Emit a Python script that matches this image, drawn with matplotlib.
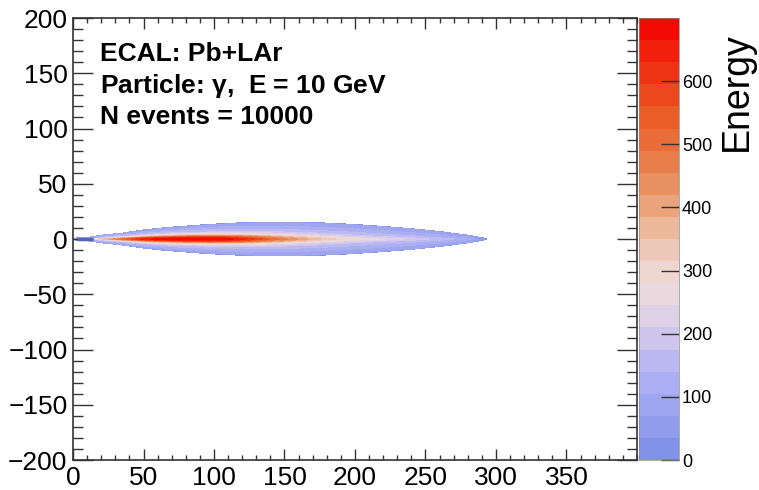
import numpy as np
import matplotlib
matplotlib.use("Agg")
import matplotlib.pyplot as plt
from matplotlib.colors import LinearSegmentedColormap
from matplotlib.ticker import MultipleLocator

plt.rcParams['font.family'] = ['Liberation Sans', 'DejaVu Sans']

# longitudinal positions (x) and shower envelope half-width
x_pos = [0, 10, 20, 35, 50, 65, 80, 95, 110, 125, 140, 155, 170, 185, 200,
         220, 240, 260, 280, 293]
half_width = [0.8, 1.5, 3.5, 5.5, 8.4, 10.5, 12.0, 13.5, 14.5, 15.4, 15.7,
              15.7, 15.4, 14.5, 13.5, 11.7, 9.6, 7.0, 3.6, 0.6]

# transverse offset as a fraction of the half-width
u_rows = [0.0, 0.12, 0.25, 0.45, 0.7, 0.93, 1.0]

# energy per column, from the axis (u=0) out to the envelope edge
energy = [
    [60, 140, 330, 500, 650, 690, 700, 700, 680, 620, 520, 440, 370, 320, 280, 240, 200, 160, 120, 30],
    [50, 120, 260, 420, 540, 600, 620, 610, 580, 500, 420, 350, 300, 260, 230, 200, 175, 145, 110, 25],
    [45, 100, 190, 280, 350, 380, 380, 360, 330, 300, 260, 230, 210, 190, 175, 160, 150, 130, 100, 20],
    [40, 90, 140, 170, 180, 190, 190, 180, 175, 165, 160, 155, 150, 145, 140, 130, 120, 110, 90, 15],
    [35, 80, 110, 120, 120, 120, 120, 120, 115, 115, 110, 110, 105, 105, 100, 100, 95, 90, 80, 10],
    [30, 60, 80, 80, 80, 80, 80, 80, 80, 80, 80, 75, 75, 75, 75, 70, 70, 65, 60, 5],
    [-40, -40, -40, -40, -40, -40, -40, -40, -40, -40, -40, -40, -40, -40, -40, -40, -40, -40, -40, -40],
]

# short dark entry segment at y = 0 near the front face
entry_x = [3, 14]
entry_y = [0, 0]

levels = np.linspace(0, 700, 21)
cb_ticks = [0, 100, 200, 300, 400, 500, 600]

palette = ['#7b8de6', '#97a2ef', '#b2b3f4', '#d8cdea', '#efdcdc', '#edc3ad',
           '#e99a6c', '#e8753f', '#ea5522', '#ef2a10', '#f50000']
cmap = LinearSegmentedColormap.from_list('energy', palette)

u = np.array(u_rows)
z = np.array(energy, dtype=float)
u_full = np.concatenate([-u[::-1], u[1:]])
z_full = np.vstack([z[::-1], z[1:]])
X = np.tile(np.array(x_pos, dtype=float), (len(u_full), 1))
Y = u_full[:, None] * np.array(half_width)[None, :]

fig = plt.figure(figsize=(7.59, 4.90), dpi=100)
ax = fig.add_axes([0.0962, 0.0612, 0.743, 0.902])
cax = fig.add_axes([0.842, 0.0612, 0.0527, 0.902])

cs = ax.contourf(X, Y, z_full, levels=levels, cmap=cmap)
ax.plot(entry_x, entry_y, color='#5566aa', lw=2.5, solid_capstyle='butt')

ax.set_xlim(0, 400)
ax.set_ylim(-200, 200)
ax.xaxis.set_major_locator(MultipleLocator(50))
ax.xaxis.set_minor_locator(MultipleLocator(10))
ax.yaxis.set_major_locator(MultipleLocator(50))
ax.yaxis.set_minor_locator(MultipleLocator(10))
ax.set_xticks([0, 50, 100, 150, 200, 250, 300, 350], minor=False)
ax.tick_params(axis='both', which='both', direction='in', top=True, right=True,
               width=1.0, labelsize=19, color='#333333')
ax.tick_params(axis='x', which='major', length=7.7, pad=4)
ax.tick_params(axis='x', which='minor', length=3.8)
ax.tick_params(axis='y', which='major', length=14.4, pad=4)
ax.tick_params(axis='y', which='minor', length=7.2)
for sp in ax.spines.values():
    sp.set_linewidth(1.2)
    sp.set_color('#333333')

ax.text(0.048, 0.903, 'ECAL: Pb+LAr', transform=ax.transAxes,
        fontsize=19, fontweight='bold', va='baseline')
ax.text(0.048, 0.830, r'Particle: $\mathregular{\gamma}$,  E = 10 GeV', transform=ax.transAxes,
        fontsize=19, fontweight='bold', va='baseline')
ax.text(0.048, 0.760, 'N events = 10000', transform=ax.transAxes,
        fontsize=19, fontweight='bold', va='baseline')

cb = fig.colorbar(cs, cax=cax, ticks=cb_ticks)
cb.outline.set_linewidth(0.5)
cb.outline.set_edgecolor('#888888')
cax.tick_params(direction='in', length=13, width=1.0, labelsize=13, pad=2,
                color='#333333')
cax.set_ylim(0, 700)

fig.text(0.971, 0.935, 'Energy', rotation=90, ha='center', va='top', fontsize=27)

fig.savefig('out.png', dpi=100)
